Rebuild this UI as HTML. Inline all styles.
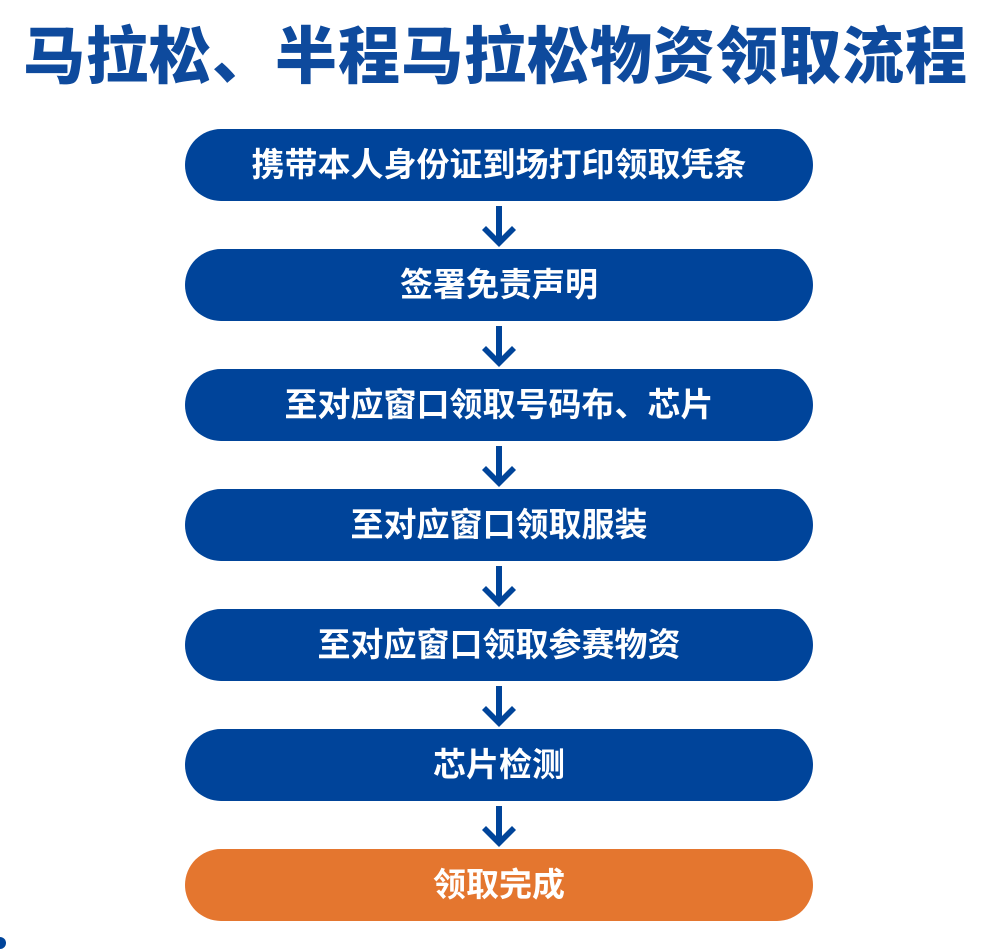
<!DOCTYPE html>
<html><head><meta charset="utf-8"><style>
body{margin:0;width:991px;height:943px;background:#fff;position:relative;overflow:hidden;font-family:"Liberation Sans","Noto Sans CJK SC",sans-serif;}
.t{position:absolute;left:0;width:991px;top:22px;text-align:center;font-size:62px;font-weight:900;color:#0e4a9d;line-height:72px;letter-spacing:1px;white-space:nowrap}
.b{position:absolute;left:185px;width:628px;height:72px;border-radius:36px;background:#00449a;color:#fff;font-size:33px;font-weight:bold;text-align:center;line-height:72px}
.o{background:#e4762f}
svg{position:absolute;left:481px;width:36px;height:42px}
</style></head><body>
<div class="t">马拉松、半程马拉松物资领取流程</div>
<div class="b" style="top:129px">携带本人身份证到场打印领取凭条</div>
<div class="b" style="top:249px">签署免责声明</div>
<div class="b" style="top:369px">至对应窗口领取号码布、芯片</div>
<div class="b" style="top:489px">至对应窗口领取服装</div>
<div class="b" style="top:609px">至对应窗口领取参赛物资</div>
<div class="b" style="top:729px">芯片检测</div>
<div class="b o" style="top:849px">领取完成</div>
<svg style="top:206px" viewBox="0 0 36 42"><path d="M15 0h6v30l10-10 4 4-17 17L1 24l4-4 10 10z" fill="#00449a"/></svg>
<svg style="top:326px" viewBox="0 0 36 42"><path d="M15 0h6v30l10-10 4 4-17 17L1 24l4-4 10 10z" fill="#00449a"/></svg>
<svg style="top:446px" viewBox="0 0 36 42"><path d="M15 0h6v30l10-10 4 4-17 17L1 24l4-4 10 10z" fill="#00449a"/></svg>
<svg style="top:566px" viewBox="0 0 36 42"><path d="M15 0h6v30l10-10 4 4-17 17L1 24l4-4 10 10z" fill="#00449a"/></svg>
<svg style="top:686px" viewBox="0 0 36 42"><path d="M15 0h6v30l10-10 4 4-17 17L1 24l4-4 10 10z" fill="#00449a"/></svg>
<svg style="top:806px" viewBox="0 0 36 42"><path d="M15 0h6v30l10-10 4 4-17 17L1 24l4-4 10 10z" fill="#00449a"/></svg>
<div style="position:absolute;left:-6px;top:937px;width:12px;height:12px;border-radius:6px;background:#00449a"></div>
</body></html>
